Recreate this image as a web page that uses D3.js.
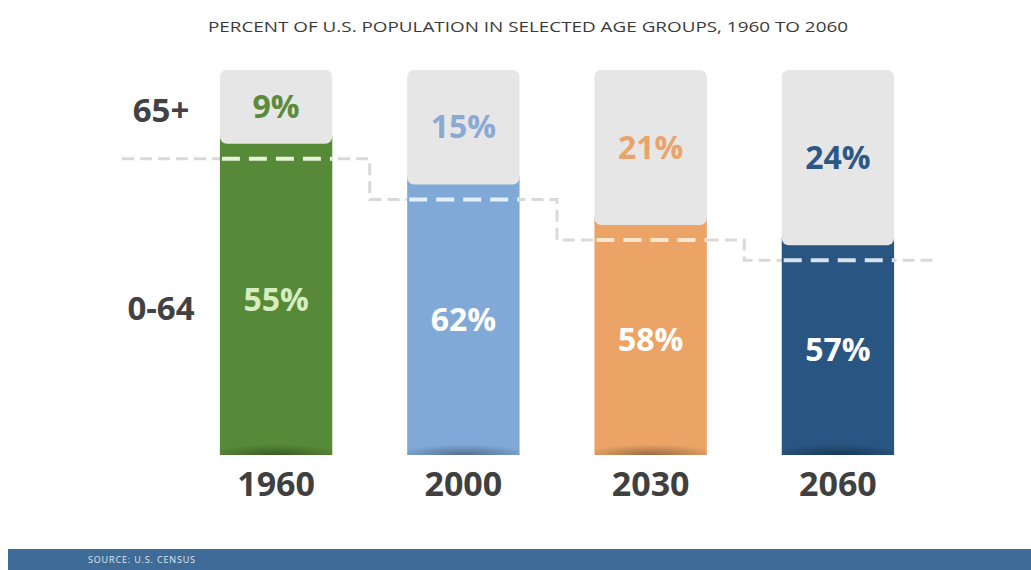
<!DOCTYPE html>
<html>
<head>
<meta charset="utf-8">
<script src="https://cdn.jsdelivr.net/npm/d3@7"></script>
<style>
  body { margin: 0; background: #fff; }
  svg { display: block; font-family: "Open Sans", "Noto Sans", sans-serif; }
</style>
</head>
<body>
<div id="chart"></div>
<script>
// data
var years = ["1960", "2000", "2030", "2060"];
var older = [9, 15, 21, 24];      // 65+
var younger = [55, 62, 58, 57];   // 0-64
var groups = ["65+", "0-64"];
var barColors = ["#578a38", "#81a9d8", "#eba466", "#285581"];
var olderTextColors = ["#5b8c3c", "#8aaad4", "#e8a46b", "#2d5886"];
var youngerTextColors = ["#d6edc2", "#ffffff", "#ffffff", "#ffffff"];
var dashColors = ["#e4f4d6", "#e6f0fb", "#fbe6d2", "#d7e3f0"];

var width = 1031, height = 570;
var barTop = 70, barBottom = 455;

var svg = d3.select("#chart").append("svg")
    .attr("width", width)
    .attr("height", height);

var data = years.map(function(y, i) {
  return {year: y, older: older[i], younger: younger[i], i: i};
});

// set the ranges
var x = d3.scaleBand()
    .domain(years)
    .range([145, 969])
    .paddingInner(0.4)
    .paddingOuter(0.4);

// height of the grey 65+ cap
var cap = d3.scaleLinear()
    .domain([0, 55])
    .range([13, barBottom - barTop]);

function splitY(d) { return barTop + cap(d.older); }

// shadow gradient at the bottom of each bar
var defs = svg.append("defs");
var grad = defs.append("radialGradient")
    .attr("id", "shade").attr("cx", "50%").attr("cy", "100%").attr("r", "60%");
grad.append("stop").attr("offset", "0%").attr("stop-color", "#000").attr("stop-opacity", 0.35);
grad.append("stop").attr("offset", "100%").attr("stop-color", "#000").attr("stop-opacity", 0);

// title
svg.append("text")
    .attr("x", 528)
    .attr("y", 32)
    .attr("text-anchor", "middle")
    .attr("font-size", "14px")
    .attr("fill", "#3a3a3a")
    .attr("textLength", 640)
    .attr("lengthAdjust", "spacingAndGlyphs")
    .text("PERCENT OF U.S. POPULATION IN SELECTED AGE GROUPS, 1960 TO 2060");

// step line behind the bars
var step = x.step();
var stepPts = [];
data.forEach(function(d, i) {
  var yy = splitY(d) + 15;
  var x0 = i === 0 ? 122 : x(d.year) - (step - x.bandwidth()) / 2;
  var x1 = i === data.length - 1 ? 935 : x(d.year) + x.bandwidth() + (step - x.bandwidth()) / 2;
  stepPts.push([x0, yy], [x1, yy]);
});
svg.append("path")
    .attr("d", d3.line()(stepPts))
    .attr("fill", "none")
    .attr("stroke", "#d9d9d9")
    .attr("stroke-width", 3)
    .attr("stroke-dasharray", "12,6");

var bars = svg.selectAll(".bar")
    .data(data)
  .enter().append("g")
    .attr("class", "bar");

// coloured 0-64 part
bars.append("rect")
    .attr("x", function(d) { return x(d.year); })
    .attr("y", function(d) { return splitY(d) - 8; })
    .attr("width", x.bandwidth())
    .attr("height", function(d) { return barBottom - splitY(d) + 8; })
    .attr("fill", function(d) { return barColors[d.i]; });

bars.append("rect")
    .attr("x", function(d) { return x(d.year); })
    .attr("y", barBottom - 18)
    .attr("width", x.bandwidth())
    .attr("height", 18)
    .attr("fill", "url(#shade)");

// grey 65+ cap
bars.append("rect")
    .attr("x", function(d) { return x(d.year); })
    .attr("y", barTop)
    .attr("width", x.bandwidth())
    .attr("height", function(d) { return cap(d.older); })
    .attr("rx", 7)
    .attr("fill", "#e6e6e6");

// dashes inside bars
bars.append("line")
    .attr("x1", function(d) { return x(d.year) + 2; })
    .attr("x2", function(d) { return x(d.year) + x.bandwidth(); })
    .attr("y1", function(d) { return splitY(d) + 15; })
    .attr("y2", function(d) { return splitY(d) + 15; })
    .attr("stroke", function(d) { return dashColors[d.i]; })
    .attr("stroke-width", 4)
    .attr("stroke-dasharray", "18,9");

// 65+ values
bars.append("text")
    .attr("x", function(d) { return x(d.year) + x.bandwidth() / 2; })
    .attr("y", function(d) { return (barTop + splitY(d)) / 2; })
    .attr("dy", "0.35em")
    .attr("text-anchor", "middle")
    .attr("font-size", "32px")
    .attr("font-weight", "bold")
    .attr("fill", function(d) { return olderTextColors[d.i]; })
    .text(function(d) { return d.older + "%"; });

// 0-64 values
bars.append("text")
    .attr("x", function(d) { return x(d.year) + x.bandwidth() / 2; })
    .attr("y", function(d) { return (splitY(d) + barBottom) / 2; })
    .attr("dy", "0.35em")
    .attr("text-anchor", "middle")
    .attr("font-size", "32px")
    .attr("font-weight", "bold")
    .attr("fill", function(d) { return youngerTextColors[d.i]; })
    .text(function(d) { return d.younger + "%"; });

// year axis
var axis = svg.append("g")
    .attr("transform", "translate(0," + (barBottom + 29) + ")")
    .call(d3.axisBottom(x).tickSize(0).tickPadding(0));
axis.select(".domain").remove();
axis.selectAll(".tick text")
    .attr("dy", "0.35em")
    .attr("font-family", "'Open Sans', sans-serif")
    .attr("font-size", "34px")
    .attr("font-weight", "bold")
    .attr("fill", "#404040");

// row labels
svg.selectAll(".grp")
    .data(groups)
  .enter().append("text")
    .attr("class", "grp")
    .attr("x", 161)
    .attr("y", function(d, i) { return i === 0 ? 110 : 308; })
    .attr("dy", "0.35em")
    .attr("text-anchor", "middle")
    .attr("font-size", "33px")
    .attr("font-weight", "bold")
    .attr("fill", "#424242")
    .text(function(d) { return d; });

// source band
svg.append("rect")
    .attr("x", 8)
    .attr("y", 549)
    .attr("width", width - 8)
    .attr("height", 21)
    .attr("fill", "#3f6b98");
svg.append("text")
    .attr("x", 88)
    .attr("y", 563)
    .attr("font-size", "9px")
    .attr("fill", "#dfe8f2")
    .attr("textLength", 107)
    .text("SOURCE: U.S. CENSUS");
</script>
</body>
</html>
